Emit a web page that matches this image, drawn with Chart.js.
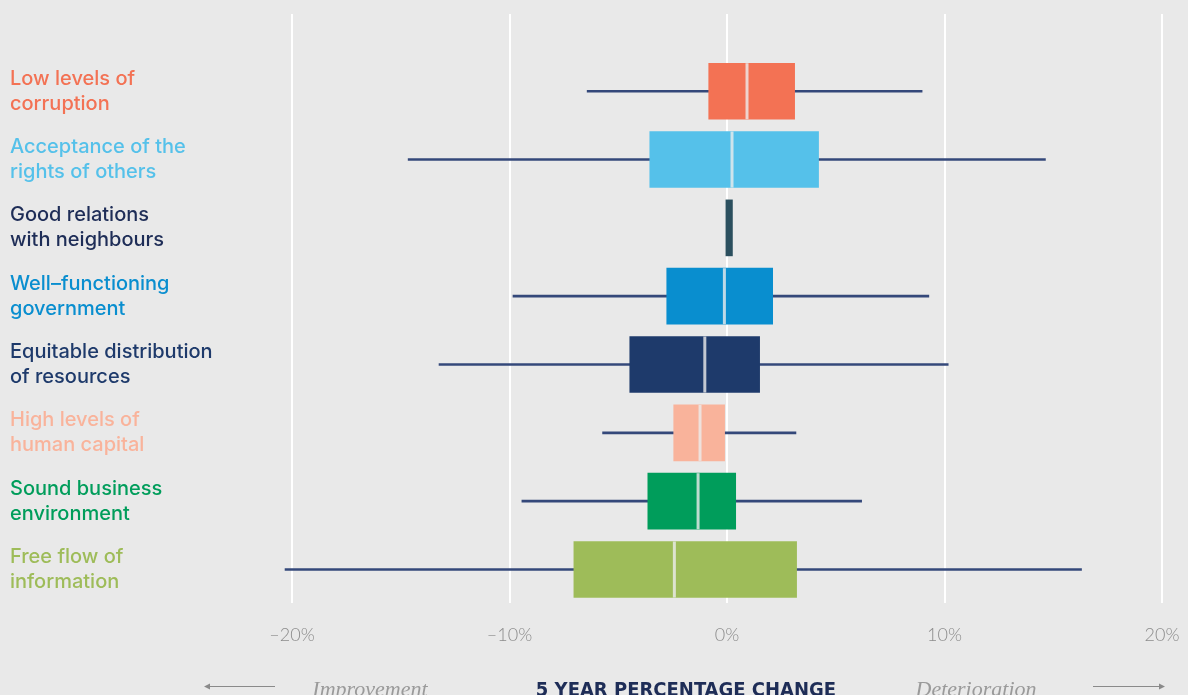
<!DOCTYPE html>
<html>
<head>
<meta charset="utf-8">
<script src="https://cdn.jsdelivr.net/npm/chart.js@4/dist/chart.umd.min.js"></script>
<style>
  html, body { margin: 0; padding: 0; background: #e9e9e9; overflow: hidden; }
  canvas { display: block; }
</style>
</head>
<body>
<canvas id="boxChart" width="1188" height="695"></canvas>
<script>
// ------------------------------------------------------
// Data (5 year percentage change, per pillar)
// ------------------------------------------------------

const pillars = [
    ["Low levels of", "corruption"],
    ["Acceptance of the", "rights of others"],
    ["Good relations", "with neighbours"],
    ["Well–functioning", "government"],
    ["Equitable distribution", "of resources"],
    ["High levels of", "human capital"],
    ["Sound business", "environment"],
    ["Free flow of", "information"]
];

const q1 = [-0.84, -3.55, -0.05, -2.77, -4.47, -2.45, -3.64, -7.04];
const median = [0.92, 0.23, null, -0.12, -1.02, -1.24, -1.33, -2.42];
const q3 = [3.11, 4.21, 0.25, 2.10, 1.50, -0.11, 0.40, 3.20];
const whiskerLow = [-6.43, -14.66, null, -9.84, -13.24, -5.72, -9.43, -20.32];
const whiskerHigh = [8.97, 14.64, null, 9.28, 10.17, 3.17, 6.19, 16.30];

const xTicks = [-20, -10, 0, 10, 20];

const boxColors = ["#f37254", "#55c1ea", "#2b4f5e", "#098ecf", "#1e3a6b", "#f9b39b", "#009d5b", "#9ebc59"];
const labelColors = ["#f37254", "#55c1ea", "#1e2d57", "#098ecf", "#1e3a6b", "#f9b39b", "#009d5b", "#9ebc59"];

// ------------------------------------------------------
// Median line + bottom caption
// ------------------------------------------------------

const medianPlugin = {
    id: "medianLines",
    afterDatasetsDraw(chart) {
        const ctx = chart.ctx;
        const meta = chart.getDatasetMeta(0);
        const x = chart.scales.x;
        ctx.save();
        ctx.strokeStyle = "rgba(236,236,236,0.8)";
        ctx.lineWidth = 3;
        median.forEach((m, i) => {
            if (m === null) return;
            const bar = meta.data[i];
            const px = x.getPixelForValue(m);
            ctx.beginPath();
            ctx.moveTo(px, bar.y - bar.height / 2);
            ctx.lineTo(px, bar.y + bar.height / 2);
            ctx.stroke();
        });
        ctx.restore();
    }
};

const captionPlugin = {
    id: "caption",
    afterDraw(chart) {
        const ctx = chart.ctx;
        ctx.save();
        ctx.textBaseline = "alphabetic";
        ctx.textAlign = "center";

        ctx.fillStyle = "#9a9a9a";
        ctx.font = "italic 22px 'Liberation Serif', 'DejaVu Serif', serif";
        ctx.fillText("Improvement", 370, 696);
        ctx.fillText("Deterioration", 976, 696);

        ctx.fillStyle = "#1e2d57";
        ctx.font = "bold 20px 'Liberation Sans Narrow', 'DejaVu Sans Condensed', sans-serif";
        ctx.fillText("5 YEAR PERCENTAGE CHANGE", 686, 696);

        // arrows
        ctx.strokeStyle = "#8a8a8a";
        ctx.fillStyle = "#8a8a8a";
        ctx.lineWidth = 1;
        ctx.beginPath();
        ctx.moveTo(206, 686.5); ctx.lineTo(275, 686.5);
        ctx.moveTo(1093, 686.5); ctx.lineTo(1160, 686.5);
        ctx.stroke();
        ctx.beginPath();
        ctx.moveTo(204, 686.5); ctx.lineTo(210, 683.5); ctx.lineTo(210, 689.5); ctx.closePath();
        ctx.moveTo(1165, 686.5); ctx.lineTo(1159, 683.5); ctx.lineTo(1159, 689.5); ctx.closePath();
        ctx.fill();
        ctx.restore();
    }
};

// ------------------------------------------------------
// Chart
// ------------------------------------------------------

new Chart(document.getElementById("boxChart"), {
    type: "bar",
    data: {
        datasets: [
            {
                label: "Interquartile range",
                data: pillars.map((p, i) => ({ y: i, x: [q1[i], q3[i]] })),
                backgroundColor: boxColors,
                barThickness: 56,
                grouped: false
            },
            {
                label: "Range",
                data: pillars.map((p, i) => ({ y: i, x: whiskerLow[i] === null ? null : [whiskerLow[i], whiskerHigh[i]] })),
                backgroundColor: "#34487a",
                barThickness: 2,
                grouped: false,
                clip: false
            }
        ]
    },
    options: {
        indexAxis: "y",
        responsive: false,
        animation: false,
        layout: { padding: { left: 10, right: 26, top: 14, bottom: 0 } },
        plugins: {
            legend: { display: false },
            tooltip: { enabled: false }
        },
        scales: {
            x: {
                type: "linear",
                min: -20,
                max: 20,
                afterBuildTicks: s => { s.ticks = xTicks.map(v => ({ value: v })); },
                afterFit: s => { s.height = 92; s.paddingLeft = 0; s.paddingRight = 0; },
                grid: { color: "#ffffff", lineWidth: 2, drawTicks: false },
                border: { display: false },
                ticks: {
                    padding: 21,
                    color: "#8c8c8c",
                    font: { family: "Lato", size: 18, weight: 300 },
                    callback: v => (v < 0 ? "–" + Math.abs(v) : v) + "%"
                }
            },
            y: {
                type: "linear",
                reverse: true,
                offset: false,
                min: -1.13,
                max: 7.49,
                afterBuildTicks: s => { s.ticks = pillars.map((p, i) => ({ value: i })); },
                afterFit: s => { s.width = 282; s.paddingTop = 0; s.paddingBottom = 0; },
                grid: { display: false },
                border: { display: false },
                ticks: {
                    crossAlign: "far",
                    padding: 0,
                    color: c => labelColors[c.index],
                    font: { family: "Inter", size: 20, weight: 500, lineHeight: 1.25 },
                    callback: v => pillars[v]
                }
            }
        }
    },
    plugins: [medianPlugin, captionPlugin]
});
</script>
</body>
</html>
